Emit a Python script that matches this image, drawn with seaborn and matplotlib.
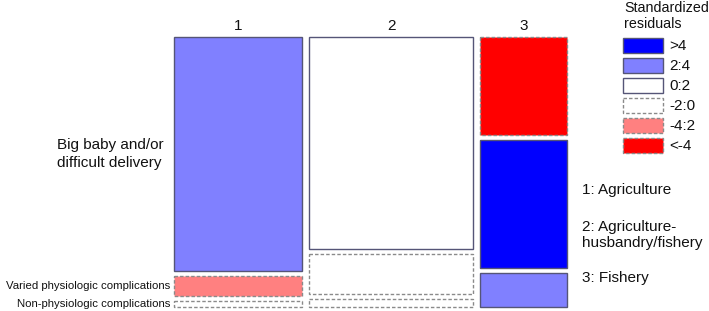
import matplotlib
matplotlib.use("Agg")
import matplotlib.pyplot as plt
from matplotlib.patches import Rectangle
import seaborn as sns
import numpy as np

# ---- data ----
occupations = ["1", "2", "3"]
occupation_names = ["1: Agriculture", "2: Agriculture-\nhusbandry/fishery", "3: Fishery"]
complications = ["Big baby and/or\ndifficult delivery",
                 "Varied physiologic complications",
                 "Non-physiologic complications"]
# counts per occupation (columns) for each complication (rows)
counts_big = [304, 350, 87]
counts_varied = [26, 66, 113]
counts_nonphys = [8, 14, 30]
# standardized residuals (estimated)
resid_big = [3.0, 1.5, -6.0]
resid_varied = [-2.5, -1.5, 7.5]
resid_nonphys = [-1.0, -1.0, 2.5]

legend_labels = [">4", "2:4", "0:2", "-2:0", "-4:2", "<-4"]
legend_colors = ["#0000FF", "#8080FF", "#FFFFFF", "#FFFFFF", "#FF8080", "#FF0000"]
legend_dashed = [False, False, False, True, True, True]

sns.set_style("white")
plt.rcParams['font.family'] = ['Liberation Sans', 'DejaVu Sans']

W, H = 709, 311
fig = plt.figure(figsize=(W / 100, H / 100), dpi=100)
ax = fig.add_axes([0, 0, 1, 1])
ax.set_xlim(0, W)
ax.set_ylim(H, 0)
ax.axis("off")

# layout (pixels)
X0, XW, XGAP = 174, 393, 7
Y0, YH, YGAP = 37, 270, 5

counts = np.array([counts_big, counts_varied, counts_nonphys], dtype=float)
resid = np.array([resid_big, resid_varied, resid_nonphys], dtype=float)
ncol = counts.shape[1]
nrow = counts.shape[0]
col_tot = counts.sum(axis=0)
avail_w = XW - XGAP * (ncol - 1)
avail_h = YH - YGAP * (nrow - 1)


def style(r):
    if r > 4:
        return legend_colors[0], False
    if r > 2:
        return legend_colors[1], False
    if r >= 0:
        return legend_colors[2], False
    if r > -2:
        return legend_colors[3], True
    if r > -4:
        return legend_colors[4], True
    return legend_colors[5], True


def draw_rect(x, y, w, h, fc, dashed):
    if dashed:
        ax.add_patch(Rectangle((x, y), w, h, facecolor=fc, edgecolor="#8a8a8a",
                               linewidth=1.0, linestyle=(0, (2.5, 1.5))))
    else:
        ax.add_patch(Rectangle((x, y), w, h, facecolor=fc, edgecolor="#555577",
                               linewidth=1.0))


x = X0
for j in range(ncol):
    w = avail_w * col_tot[j] / col_tot.sum()
    y = Y0
    for i in range(nrow):
        h = avail_h * counts[i, j] / col_tot[j]
        fc, dashed = style(resid[i, j])
        draw_rect(x, y, w, h, fc, dashed)
        if j == 0:
            if i == 0:
                ax.text(57, y + h / 2, complications[i], ha="left", va="center",
                        fontsize=11, color="#111111", linespacing=1.4)
            else:
                ax.text(170, y + h / 2, complications[i], ha="right", va="center",
                        fontsize=8.2, color="#111111")
        y += h + YGAP
    ax.text(x + w / 2, 26, occupations[j], ha="center", va="center",
            fontsize=11, color="#111111")
    x += w + XGAP

# legend
ax.text(624, 16, "Standardized\nresiduals", ha="left", va="center",
        fontsize=10.3, color="#111111", linespacing=1.25)
for k, (lab, c, d) in enumerate(zip(legend_labels, legend_colors, legend_dashed)):
    ly = 38 + k * 20
    draw_rect(623, ly, 40, 15, c, d)
    ax.text(669, ly + 7.5, lab, ha="left", va="center", fontsize=11, color="#111111")

# occupation key
key_y = [190, 235, 278]
for name, ky in zip(occupation_names, key_y):
    ax.text(582, ky, name, ha="left", va="center", fontsize=11, color="#111111",
            linespacing=1.25)

fig.savefig("out.png", dpi=100)
